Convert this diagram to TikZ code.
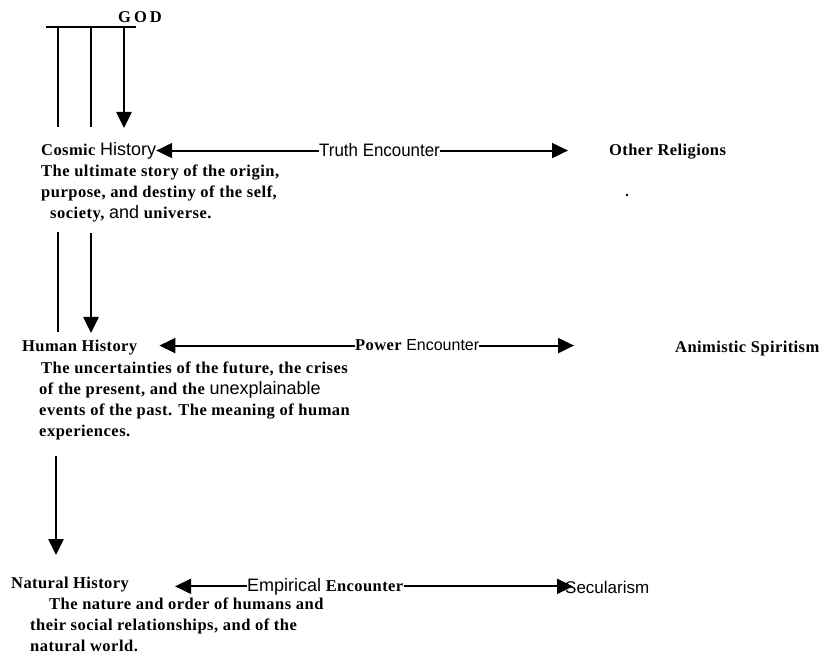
\documentclass[tikz,border=0pt]{standalone}
\usepackage{fontspec}
\usetikzlibrary{arrows.meta}
\setmainfont{Liberation Serif}
\newfontfamily\hdf{Liberation Serif Bold}[LetterSpace=2.5]
\newfontfamily\dsf{Liberation Serif Bold}[LetterSpace=3]
\newfontfamily\sansf{Liberation Sans}
\newfontfamily\condf{Liberation Sans}[FakeStretch=0.94]
\tikzset{
  lbl/.style={inner sep=0pt, anchor=base west, font=\fontsize{16.5}{21}\selectfont\hdf},
  desc/.style={inner sep=0pt, anchor=north west, align=left, font=\fontsize{16.5}{21}\selectfont\dsf},
  heavy/.style={line width=2.6pt},
  conn/.style={line width=2pt},
  tip/.style={-{Triangle[length=16pt,width=15pt]}},
}
\begin{document}
\begin{tikzpicture}[x=1pt,y=-1pt]
\useasboundingbox (0,0) rectangle (820,660);
% GOD and bar
\node[lbl] (god) at (118,23) {G\hspace{3pt}O\hspace{3pt}D};
\coordinate (barL) at (46,27);
\coordinate (barR) at (136,27);
\draw[heavy] (barL) -- (barR);
\coordinate (v1t) at (58,27);
\coordinate (v2t) at (91,27);
\coordinate (v3t) at (124,27);
\coordinate (v1b) at (58,127);
\coordinate (v2b) at (91,127);
\coordinate (v3b) at (124,128);

% Cosmic level
\node[lbl] (cosmic) at (41,156) {Cosmic {\sansf\fontsize{18}{21}\selectfont History}};
\node[desc] (cosmicd) at (41,165) {The ultimate story of the origin,\\purpose, and destiny of the self,\\\hspace*{9pt}society, {\sansf\fontsize{18}{21}\selectfont and} universe.};
\node[inner sep=0pt, anchor=base west, font=\condf\fontsize{18}{21}\selectfont] (truth) at (319,157) {Truth Encounter};
\node[lbl] (other) at (609,156) {Other Religions};
\node[inner sep=0.9pt, fill=black, circle] (dot) at (627,195) {};

\draw[heavy] (v1t) -- (v1b);
\draw[heavy] (v2t) -- (v2b);
\draw[heavy, tip] (v3t) -- (v3b);

\draw[conn, tip, shorten >=0pt] (truth.west) -- (truth.west -| cosmic.east);
\draw[conn, tip, shorten >=41pt] (truth.east) -- (truth.east -| other.west);

% Human level
\node[lbl] (human) at (22,352) {Human History};
\node[desc] (humand) at (39,362) {\hspace*{2pt}The uncertainties of the future, the crises\\of the present, and the {\sansf\fontsize{18}{21}\selectfont unexplainable}\\events of the past. The meaning of human\\experiences.};
\node[lbl] (power) at (355,351) {Power {\sansf\fontsize{16}{21}\selectfont Encounter}};
\node[lbl] (animistic) at (675,352.5) {Animistic Spiritism};

\coordinate (h1t) at (58,232);
\coordinate (h2t) at (91,233);
\coordinate (h1b) at (58,332);
\coordinate (h2b) at (91,333);
\draw[heavy] (h1t) -- (h1b);
\draw[heavy, tip] (h2t) -- (h2b);

\draw[conn, tip, shorten >=22pt] (power.west) -- (power.west -| human.east);
\draw[conn, tip, shorten >=101pt] (power.east) -- (power.east -| animistic.west);

% Natural level
\node[lbl] (natural) at (11,588) {Natural History};
\node[desc] (naturald) at (30,598) {\hspace*{19pt}The nature and order of humans and\\their social relationships, and of the\\natural world.};
\node[lbl] (empirical) at (247,591) {{\sansf\fontsize{18}{21}\selectfont Empirical} Encounter};
\node[inner sep=0pt, anchor=base west, font=\sansf\fontsize{17}{21}\selectfont] (secular) at (565,593) {Secularism};

\coordinate (n1t) at (56,456);
\coordinate (n1b) at (56,555);
\draw[heavy, tip] (n1t) -- (n1b);

\draw[conn, tip, shorten >=46pt] (empirical.west) -- (empirical.west -| natural.east);
\draw[conn, tip, shorten >=-8pt] (empirical.east) -- (empirical.east -| secular.west);
\end{tikzpicture}
\end{document}
